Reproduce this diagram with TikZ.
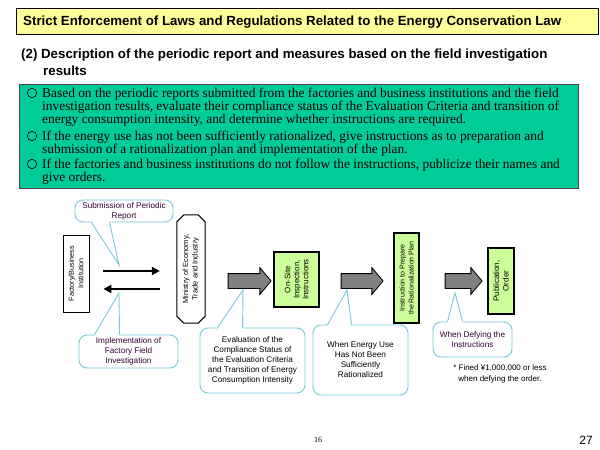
\documentclass[tikz,border=0pt]{standalone}
\usepackage{fontspec}
\setmainfont{Liberation Serif}
\setsansfont{Liberation Sans}
\usetikzlibrary{shapes.arrows,calc,arrows.meta}
\definecolor{titlebg}{RGB}{255,255,153}
\definecolor{greenbg}{RGB}{0,204,153}
\definecolor{boxgreen}{RGB}{204,255,153}
\definecolor{callblue}{RGB}{120,200,220}
\definecolor{calltext}{RGB}{51,0,51}
\definecolor{greenborder}{RGB}{85,60,85}
\definecolor{arrowgray}{RGB}{128,128,128}
\begin{document}
\begin{tikzpicture}[x=1pt,y=-1pt,
  sidebox/.style={draw=black,line width=0.8pt,fill=white,inner sep=0pt},
  greenstep/.style={draw=black,line width=1.3pt,fill=boxgreen,inner sep=0pt},
  vtext/.style={font=\sffamily\fontsize{7.5}{9.5}\selectfont,rotate=90,align=center,inner sep=0pt},
  callout/.style={draw=callblue,line width=0.9pt,fill=white,rounded corners=8pt,inner sep=0pt,align=center,font=\sffamily\fontsize{8.2}{10}\selectfont},
  wedgeline/.style={draw=callblue,line width=0.9pt},
  blockarrow/.style={single arrow,draw=black,line width=0.8pt,fill=arrowgray,minimum width=26pt,single arrow head extend=6pt,inner sep=7pt,single arrow tip angle=100},
  flowarrow/.style={-{Triangle[length=8pt,width=8pt]},line width=2pt},
  bodyline/.style={anchor=base west,inner sep=0pt,font=\fontsize{13.4}{13}\selectfont},
  bullet/.style={circle,draw=black,line width=0.6pt,minimum size=9.5pt,inner sep=0pt},
  headfont/.style={anchor=base west,inner sep=0pt,font=\sffamily\bfseries\fontsize{13.3}{15}\selectfont}
]
\fill[white] (0,0) rectangle (600,450);
\useasboundingbox (0,0) rectangle (600,450);

% title
\node[draw=black,line width=0.8pt,fill=titlebg,minimum width=582pt,minimum height=26pt,
      anchor=north west,inner sep=0pt] (title) at (16,8) {};
\node[headfont] (titletxt) at (23,25.5)
  {Strict Enforcement of Laws and Regulations Related to the Energy Conservation Law};

% heading
\node[headfont] (head1) at (21,58)
  {(2) Description of the periodic report and measures based on the field investigation};
\node[headfont] (head2) at (43,75)
  {results};

% green box
\node[draw=greenborder,line width=1.2pt,fill=greenbg,minimum width=559pt,minimum height=104pt,
      anchor=north west,inner sep=0pt] (green) at (19,84) {};
\node[bullet] (b1) at (32,93) {};
\node[bodyline] (l1) at (42,97.5) {Based on the periodic reports submitted from the factories and business institutions and the field};
\node[bodyline] (l2) at (42,110.5) {investigation results, evaluate their compliance status of the Evaluation Criteria and transition of};
\node[bodyline] (l3) at (42,123.5) {energy consumption intensity, and determine whether instructions are required.};
\node[bullet] (b2) at (32,136) {};
\node[bodyline] (l4) at (42,140.5) {If the energy use has not been sufficiently rationalized, give instructions as to preparation and};
\node[bodyline] (l5) at (42,153.5) {submission of a rationalization plan and implementation of the plan.};
\node[bullet] (b3) at (32,164) {};
\node[bodyline] (l6) at (42,168.5) {If the factories and business institutions do not follow the instructions, publicize their names and};
\node[bodyline] (l7) at (42,181.5) {give orders.};

% diagram boxes
\node[sidebox,minimum width=26pt,minimum height=77pt] (fac) at (76,273.5) {};
\node[vtext,font=\sffamily\fontsize{7.2}{9.5}\selectfont] (factxt) at (fac.center) {Factory/Business\\Institution};

\node[inner sep=0pt,minimum width=28pt,minimum height=108pt] (min) at (191,269) {};
\draw[line width=1pt,fill=white]
  ($(min.north west)+(7,0)$) -- ($(min.north east)+(-7,0)$) -- ($(min.north east)+(0,7)$)
  -- ($(min.south east)+(0,-7)$) -- ($(min.south east)+(-7,0)$) -- ($(min.south west)+(7,0)$)
  -- ($(min.south west)+(0,-7)$) -- ($(min.north west)+(0,7)$) -- cycle;
\node[vtext] (mintxt) at (min.center) {Ministry of Economy,\\Trade and Industry};

\node[greenstep,minimum width=45pt,minimum height=55pt] (onsite) at (296.5,279.5) {};
\node[vtext,font=\sffamily\fontsize{8}{9}\selectfont] (onsitetxt) at (onsite.center) {On-Site\\Inspection,\\Instructions};

\node[greenstep,minimum width=25pt,minimum height=90pt] (instr) at (406.5,278) {};
\node[vtext,font=\sffamily\fontsize{7}{9}\selectfont] (instrtxt) at (instr.center) {Instruction to Prepare\\the Rationalization Plan};

\node[greenstep,minimum width=26pt,minimum height=66pt] (pub) at (501,281) {};
\node[vtext,font=\sffamily\fontsize{8}{9.5}\selectfont] (pubtxt) at (pub.center) {Publication,\\Order};

% flow arrows
\coordinate (r1) at (0,271);
\coordinate (r2) at (0,289);
\draw[flowarrow,shorten <=14pt,shorten >=17pt] (fac.east |- r1) -- (min.west |- r1);
\draw[flowarrow,shorten <=17pt,shorten >=14pt] (min.west |- r2) -- (fac.east |- r2);

\node[blockarrow,minimum height=43pt] (ar1) at (246.5,281) {};
\node[blockarrow,minimum height=42pt] (ar2) at (359,281) {};
\node[blockarrow,minimum height=37pt] (ar3) at (460.5,281) {};

% callouts
\node[callout,text=calltext,minimum width=98pt,minimum height=22pt] (sub) at (124,211) {Submission of Periodic\\Report};
\coordinate (subtip) at (119,265);
\fill[white] ($(sub.south west)+(17,-1.5)$) -- (subtip) -- ($(sub.south west)+(35,-1.5)$) -- cycle;
\draw[wedgeline] ($(sub.south west)+(17,0)$) -- (subtip) -- ($(sub.south west)+(35,0)$);

\node[callout,text=calltext,minimum width=99pt,minimum height=33pt] (impl) at (128.5,351.5) {Implementation of\\Factory Field\\Investigation};
\coordinate (impltip) at (119,293);
\fill[white] ($(impl.north west)+(16,1.5)$) -- (impltip) -- ($(impl.north west)+(41,1.5)$) -- cycle;
\draw[wedgeline] ($(impl.north west)+(16,0)$) -- (impltip) -- ($(impl.north west)+(41,0)$);

\node[callout,minimum width=105pt,minimum height=65pt] (eval) at (252.5,360.5) {Evaluation of the\\Compliance Status of\\the Evaluation Criteria\\and Transition of Energy\\Consumption Intensity};
\coordinate (evaltip) at (243,290);
\fill[white] ($(eval.north west)+(18,1.5)$) -- (evaltip) -- ($(eval.north west)+(43,1.5)$) -- cycle;
\draw[wedgeline] ($(eval.north west)+(18,0)$) -- (evaltip) -- ($(eval.north west)+(43,0)$);

\node[callout,minimum width=95pt,minimum height=70pt] (energy) at (360.5,360) {When Energy Use\\Has Not Been\\Sufficiently\\Rationalized};
\coordinate (energytip) at (347,290);
\fill[white] ($(energy.north west)+(15,1.5)$) -- (energytip) -- ($(energy.north west)+(39,1.5)$) -- cycle;
\draw[wedgeline] ($(energy.north west)+(15,0)$) -- (energytip) -- ($(energy.north west)+(39,0)$);

\node[callout,text=calltext,minimum width=79pt,minimum height=35pt] (defy) at (472.5,339.5) {When Defying the\\Instructions};
\coordinate (defytip) at (455,293);
\fill[white] ($(defy.north west)+(15,1.5)$) -- (defytip) -- ($(defy.north west)+(30,1.5)$) -- cycle;
\draw[wedgeline] ($(defy.north west)+(15,0)$) -- (defytip) -- ($(defy.north west)+(30,0)$);

% footnote
\node[align=center,inner sep=0pt,font=\sffamily\fontsize{8}{11}\selectfont] (fine) at (500,374)
  {* Fined ¥1,000,000 or less\\when defying the order.};

% page numbers
\node[inner sep=0pt,font=\fontsize{8}{10}\selectfont] (pg16) at (318,440) {16};
\node[inner sep=0pt,font=\sffamily\fontsize{12}{14}\selectfont] (pg27) at (586,440) {27};
\end{tikzpicture}
\end{document}
